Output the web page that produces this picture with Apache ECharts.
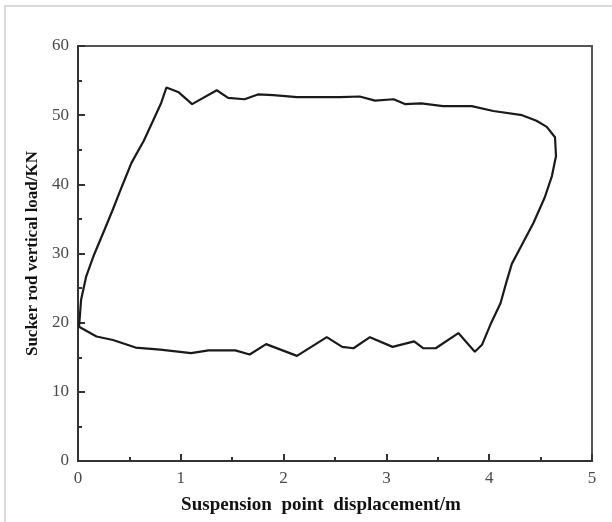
<!DOCTYPE html>
<html><head><meta charset="utf-8">
<script src="https://cdn.jsdelivr.net/npm/echarts@6/dist/echarts.min.js"></script>
<style>html,body{margin:0;padding:0;background:#fff}#c{width:612px;height:522px}</style>
</head><body><div id="c"></div>
<script>
// Indicator diagram: displacement (m) vs load (KN), traced as a closed loop
const displacement = [0.01,0.03,0.08,0.15,0.26,0.34,0.43,0.52,0.64,0.73,0.81,0.86,0.98,1.11,1.35,1.46,1.62,1.75,1.90,2.13,2.55,2.74,2.89,3.07,3.18,3.34,3.55,3.83,4.04,4.32,4.46,4.56,4.64,4.65,4.61,4.54,4.43,4.33,4.22,4.17,4.11,4.02,3.93,3.86,3.70,3.48,3.36,3.27,3.06,2.84,2.68,2.57,2.42,2.13,1.83,1.67,1.53,1.27,1.10,0.80,0.56,0.34,0.18,0.01];
const load = [19.4,23.3,26.7,29.6,33.5,36.4,39.8,43.1,46.3,49.2,51.8,54.0,53.3,51.6,53.6,52.5,52.3,53.0,52.9,52.6,52.6,52.7,52.1,52.3,51.6,51.7,51.3,51.3,50.6,50.0,49.2,48.3,46.8,44.1,41.2,38.1,34.4,31.6,28.5,26.0,22.8,20.0,16.8,15.8,18.5,16.3,16.3,17.3,16.5,17.9,16.3,16.5,17.9,15.2,16.9,15.4,16.0,16.0,15.6,16.1,16.4,17.5,18.0,19.4];
const xTicks = [0,1,2,3,4,5];
const yTicks = [0,10,20,30,40,50,60];

const pts = displacement.map((x,i)=>[x,load[i]]);
const chart = echarts.init(document.getElementById('c'), null, {renderer:'canvas'});
const font = 'Liberation Serif';
chart.setOption({
  animation:false,
  backgroundColor:'#fff',
  graphic:[{type:'rect',shape:{x:5,y:6,width:700,height:700},style:{fill:'none',stroke:'#cfcfcf',lineWidth:1.5},silent:true,z:-1}],
  grid:{left:78,top:46,right:20,bottom:61,show:true,borderColor:'#555',borderWidth:2,backgroundColor:'transparent'},
  xAxis:{type:'value',min:xTicks[0],max:xTicks[xTicks.length-1],interval:1,
    name:'Suspension  point  displacement/m',nameLocation:'middle',nameGap:35,
    nameTextStyle:{fontFamily:font,fontWeight:'bold',fontSize:19,color:'#111',padding:[0,28,0,0]},
    axisLine:{onZero:false,lineStyle:{color:'#333',width:2}},
    axisTick:{inside:true,length:7,lineStyle:{color:'#333',width:2}},
    minorTick:{show:true,splitNumber:2,length:4,lineStyle:{color:'#333',width:2}},
    axisLabel:{fontFamily:font,fontSize:17,color:'#4a4a4a',margin:9},
    splitLine:{show:false}},
  yAxis:{type:'value',min:yTicks[0],max:yTicks[yTicks.length-1],interval:10,
    name:'Sucker rod vertical load/KN',nameLocation:'middle',nameGap:37,nameRotate:90,
    nameTextStyle:{fontFamily:font,fontWeight:'bold',fontSize:17,color:'#111'},
    axisLine:{onZero:false,lineStyle:{color:'#333',width:2}},
    axisTick:{inside:true,length:7,lineStyle:{color:'#333',width:2}},
    minorTick:{show:true,splitNumber:2,length:4,lineStyle:{color:'#333',width:2}},
    axisLabel:{fontFamily:font,fontSize:17,color:'#4a4a4a',margin:9},
    splitLine:{show:false}},
  series:[{type:'line',data:pts,showSymbol:false,symbol:'none',smooth:false,
    lineStyle:{color:'#1a1a1a',width:2.2},z:3}]
});
</script></body></html>
